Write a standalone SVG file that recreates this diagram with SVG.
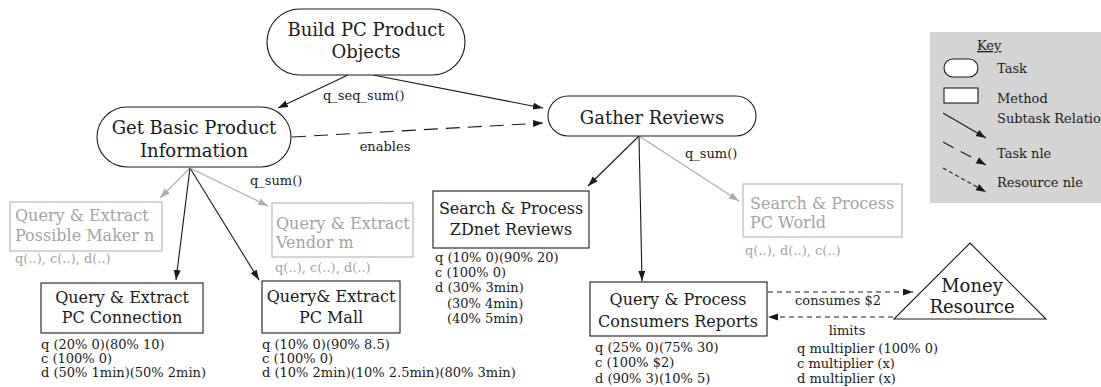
<svg xmlns="http://www.w3.org/2000/svg" width="1101" height="387" viewBox="0 0 1101 387">
<style>
text{font-family:'DejaVu Serif',serif;fill:#1a1a1a}
.t22{font-size:18px}
.t20{font-size:16px}
.t16{font-size:13px}
.a{font-size:13px}
.g{fill:#a3a3a3}
.node{fill:#fff;stroke:#1a1a1a;stroke-width:1.1}
.gnode{fill:#fff;stroke:#b3b3b3;stroke-width:1.1}
.e{stroke:#1a1a1a;stroke-width:1.1;fill:none}
.ge{stroke:#acacac;stroke-width:1.1;fill:none}
.mid{text-anchor:middle}
</style>
<defs>
<marker id="ah" markerUnits="userSpaceOnUse" markerWidth="11" markerHeight="8" refX="10" refY="3.5" orient="auto"><path d="M0,0 L10,3.5 L0,7 z" fill="#1a1a1a"/></marker>
<marker id="gah" markerUnits="userSpaceOnUse" markerWidth="11" markerHeight="8" refX="10" refY="3.5" orient="auto"><path d="M0,0 L10,3.5 L0,7 z" fill="#acacac"/></marker>
</defs>
<g id="connectors">
<line class="e" x1="348" y1="75" x2="278" y2="108" marker-end="url(#ah)"/>
<line class="e" x1="373" y1="75" x2="543" y2="108" marker-end="url(#ah)"/>
<line class="e" x1="292" y1="137" x2="543" y2="123" stroke-dasharray="14,8" marker-end="url(#ah)"/>
<line class="ge" x1="190" y1="168" x2="160" y2="198" marker-end="url(#gah)"/>
<line class="e" x1="190" y1="168" x2="176" y2="280" marker-end="url(#ah)"/>
<line class="e" x1="190" y1="168" x2="259" y2="280" marker-end="url(#ah)"/>
<line class="ge" x1="190" y1="168" x2="268" y2="206" marker-end="url(#gah)"/>
<line class="e" x1="639" y1="136" x2="588" y2="186" marker-end="url(#ah)"/>
<line class="e" x1="639" y1="136" x2="642" y2="281" marker-end="url(#ah)"/>
<line class="ge" x1="639" y1="136" x2="739" y2="201" marker-end="url(#gah)"/>
<line class="e" x1="768" y1="292" x2="913" y2="292" stroke-dasharray="5,4" marker-end="url(#ah)"/>
<line class="e" x1="893" y1="317" x2="768" y2="317" stroke-dasharray="5,4" marker-end="url(#ah)"/>
<text class="t16" x="323" y="100">q_seq_sum()</text>
<text class="t16 mid" x="385" y="151">enables</text>
<text class="t16" x="250" y="185">q_sum()</text>
<text class="t16" x="685" y="158">q_sum()</text>
<text class="t16 mid" x="838" y="305">consumes $2</text>
<text class="t16 mid" x="847" y="335">limits</text>
<text class="a" x="797" y="353">q multiplier (100% 0)</text>
<text class="a" x="797" y="368">c multiplier (x)</text>
<text class="a" x="797" y="383">d multiplier (x)</text>
</g>
<g id="build">
<rect class="node" x="267" y="9" width="198" height="66" rx="33"/>
<text class="t22 mid" x="366" y="36">Build PC Product</text>
<text class="t22 mid" x="366" y="58">Objects</text>
</g>
<g id="getbasic">
<rect class="node" x="97" y="107" width="194" height="60" rx="30"/>
<text class="t22 mid" x="194" y="134">Get Basic Product</text>
<text class="t22 mid" x="194" y="157">Information</text>
</g>
<g id="gather">
<rect class="node" x="548" y="96" width="208" height="40" rx="20"/>
<text class="t22 mid" x="652" y="124">Gather Reviews</text>
</g>
<g id="maker">
<rect class="gnode" x="10" y="202" width="152" height="49"/>
<text class="t20 g" x="15" y="221">Query &amp; Extract</text>
<text class="t20 g" x="15" y="241">Possible Maker n</text>
<text class="t16 g" x="15" y="263">q(..), c(..), d(..)</text>
</g>
<g id="vendor">
<rect class="gnode" x="272" y="203" width="141" height="54"/>
<text class="t20 g" x="276" y="229">Query &amp; Extract</text>
<text class="t20 g" x="276" y="248">Vendor m</text>
<text class="t16 g" x="275" y="272">q(..), c(..), d(..)</text>
</g>
<g id="pcconnection">
<rect class="node" x="41" y="283" width="162" height="50"/>
<text class="t20 mid" x="122" y="303">Query &amp; Extract</text>
<text class="t20 mid" x="122" y="323">PC Connection</text>
<text class="a" x="41" y="349">q (20% 0)(80% 10)</text>
<text class="a" x="41" y="363">c (100% 0)</text>
<text class="a" x="41" y="377">d (50% 1min)(50% 2min)</text>
</g>
<g id="pcmall">
<rect class="node" x="262" y="281" width="138" height="52"/>
<text class="t20 mid" x="331" y="302">Query&amp; Extract</text>
<text class="t20 mid" x="331" y="323">PC Mall</text>
<text class="a" x="262" y="349">q (10% 0)(90% 8.5)</text>
<text class="a" x="262" y="363">c (100% 0)</text>
<text class="a" x="262" y="377">d (10% 2min)(10% 2.5min)(80% 3min)</text>
</g>
<g id="zdnet">
<rect class="node" x="433" y="191" width="156" height="57"/>
<text class="t20 mid" x="511" y="214">Search &amp; Process</text>
<text class="t20 mid" x="511" y="235">ZDnet Reviews</text>
<text class="a" x="435" y="262">q (10% 0)(90% 20)</text>
<text class="a" x="435" y="277">c (100% 0)</text>
<text class="a" x="435" y="292">d (30% 3min)</text>
<text class="a" x="447" y="308">(30% 4min)</text>
<text class="a" x="447" y="323">(40% 5min)</text>
</g>
<g id="pcworld">
<rect class="gnode" x="743" y="184" width="159" height="53"/>
<text class="t20 g" x="750" y="209">Search &amp; Process</text>
<text class="t20 g" x="750" y="228">PC World</text>
<text class="t16 g" x="745" y="255">q(..), d(..), c(..)</text>
</g>
<g id="consumers">
<rect class="node" x="590" y="282" width="177" height="54"/>
<text class="t20 mid" x="678" y="305">Query &amp; Process</text>
<text class="t20 mid" x="678" y="327">Consumers Reports</text>
<text class="a" x="595" y="352">q (25% 0)(75% 30)</text>
<text class="a" x="595" y="367">c (100% $2)</text>
<text class="a" x="595" y="383">d (90% 3)(10% 5)</text>
</g>
<g id="money">
<polygon class="node" points="970,243 1046,319 894,319"/>
<text class="t22 mid" x="972" y="292">Money</text>
<text class="t22 mid" x="972" y="313">Resource</text>
</g>
<g id="key">
<rect x="930" y="32" width="175" height="171" fill="#d4d4d4"/>
<text class="t16" x="977" y="50" text-decoration="underline">Key</text>
<rect class="node" x="944" y="59" width="34" height="18" rx="9"/>
<text class="t16" x="997" y="73">Task</text>
<rect class="node" x="944" y="88" width="34" height="15"/>
<text class="t16" x="997" y="103">Method</text>
<line class="e" x1="943" y1="113" x2="986" y2="138" marker-end="url(#ah)"/>
<text class="t16" x="997" y="123">Subtask Relation</text>
<line class="e" x1="943" y1="142" x2="986" y2="165" stroke-dasharray="12,8" marker-end="url(#ah)"/>
<text class="t16" x="997" y="158">Task nle</text>
<line class="e" x1="943" y1="168" x2="986" y2="192" stroke-dasharray="4,3" marker-end="url(#ah)"/>
<text class="t16" x="997" y="187">Resource nle</text>
</g>
</svg>
